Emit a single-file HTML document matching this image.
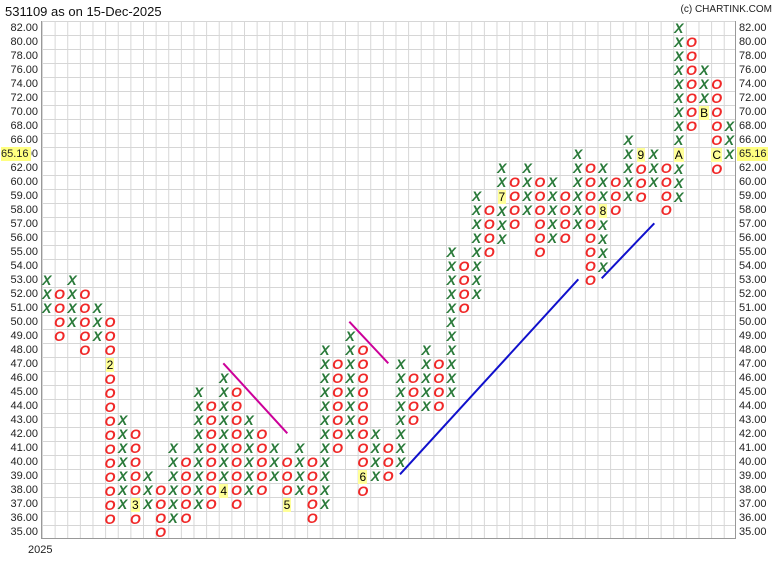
<!DOCTYPE html>
<html><head><meta charset="utf-8"><style>
body{margin:0;background:#fff;width:778px;height:568px;position:relative;overflow:hidden;font-family:"Liberation Sans",sans-serif}
#plot{position:absolute;left:40.5px;top:21px;width:695.2px;height:518px;
background-image:linear-gradient(to right,#d6d6d6 1px,transparent 1px),linear-gradient(to bottom,#d6d6d6 1px,transparent 1px);
background-size:12.64px 14px;border-left:1px solid #999;border-right:1px solid #999;border-bottom:1px solid #999;box-sizing:border-box}
.c{position:absolute;width:12.64px;text-align:center;font-size:14px;line-height:14px;font-style:italic;font-weight:bold}
.x{color:#2a7a3a}.o{color:#f02828}
.m{font-style:normal;font-weight:normal;color:#000;background:#ffff99;font-size:12px;padding:0 1px}
.l,.r{position:absolute;font-size:11px;line-height:14px;color:#222}
.l{right:740px;text-align:right}.r{left:739px}
</style></head><body>
<div style="position:absolute;left:5px;top:4px;font-size:13px;color:#111">531109 as on 15-Dec-2025</div>
<div style="position:absolute;right:6px;top:4px;font-size:10px;color:#222">(c) CHARTINK.COM</div>
<div style="position:absolute;left:28px;top:544px;font-size:11px;color:#222">2025</div>
<div id="plot"></div>
<div class="l" style="top:21px">82.00</div><div class="l" style="top:35px">80.00</div><div class="l" style="top:49px">78.00</div><div class="l" style="top:63px">76.00</div><div class="l" style="top:77px">74.00</div><div class="l" style="top:91px">72.00</div><div class="l" style="top:105px">70.00</div><div class="l" style="top:119px">68.00</div><div class="l" style="top:133px">66.00</div><div class="l" style="top:147px">64.00</div><div class="l" style="top:161px">62.00</div><div class="l" style="top:175px">60.00</div><div class="l" style="top:189px">59.00</div><div class="l" style="top:203px">58.00</div><div class="l" style="top:217px">57.00</div><div class="l" style="top:231px">56.00</div><div class="l" style="top:245px">55.00</div><div class="l" style="top:259px">54.00</div><div class="l" style="top:273px">53.00</div><div class="l" style="top:287px">52.00</div><div class="l" style="top:301px">51.00</div><div class="l" style="top:315px">50.00</div><div class="l" style="top:329px">49.00</div><div class="l" style="top:343px">48.00</div><div class="l" style="top:357px">47.00</div><div class="l" style="top:371px">46.00</div><div class="l" style="top:385px">45.00</div><div class="l" style="top:399px">44.00</div><div class="l" style="top:413px">43.00</div><div class="l" style="top:427px">42.00</div><div class="l" style="top:441px">41.00</div><div class="l" style="top:455px">40.00</div><div class="l" style="top:469px">39.00</div><div class="l" style="top:483px">38.00</div><div class="l" style="top:497px">37.00</div><div class="l" style="top:511px">36.00</div><div class="l" style="top:525px">35.00</div>
<div style="position:absolute;left:1px;top:147px;width:30px;height:14px;background:#ffff80;font-size:11px;line-height:14px;color:#222">65.16</div>
<div class="r" style="top:21px">82.00</div><div class="r" style="top:35px">80.00</div><div class="r" style="top:49px">78.00</div><div class="r" style="top:63px">76.00</div><div class="r" style="top:77px">74.00</div><div class="r" style="top:91px">72.00</div><div class="r" style="top:105px">70.00</div><div class="r" style="top:119px">68.00</div><div class="r" style="top:133px">66.00</div><div class="r" style="top:147px;background:#ffff80;left:737px;width:31px;padding-left:2px;box-sizing:border-box">65.16</div><div class="r" style="top:161px">62.00</div><div class="r" style="top:175px">60.00</div><div class="r" style="top:189px">59.00</div><div class="r" style="top:203px">58.00</div><div class="r" style="top:217px">57.00</div><div class="r" style="top:231px">56.00</div><div class="r" style="top:245px">55.00</div><div class="r" style="top:259px">54.00</div><div class="r" style="top:273px">53.00</div><div class="r" style="top:287px">52.00</div><div class="r" style="top:301px">51.00</div><div class="r" style="top:315px">50.00</div><div class="r" style="top:329px">49.00</div><div class="r" style="top:343px">48.00</div><div class="r" style="top:357px">47.00</div><div class="r" style="top:371px">46.00</div><div class="r" style="top:385px">45.00</div><div class="r" style="top:399px">44.00</div><div class="r" style="top:413px">43.00</div><div class="r" style="top:427px">42.00</div><div class="r" style="top:441px">41.00</div><div class="r" style="top:455px">40.00</div><div class="r" style="top:469px">39.00</div><div class="r" style="top:483px">38.00</div><div class="r" style="top:497px">37.00</div><div class="r" style="top:511px">36.00</div><div class="r" style="top:525px">35.00</div>

<div class="c x" style="left:40.5px;top:273px">X<br>X<br>X</div>
<div class="c o" style="left:53.14px;top:287px">O<br>O<br>O<br>O</div>
<div class="c x" style="left:65.78px;top:273px">X<br>X<br>X<br>X</div>
<div class="c o" style="left:78.42px;top:287px">O<br>O<br>O<br>O<br>O</div>
<div class="c x" style="left:91.06px;top:301px">X<br>X<br>X</div>
<div class="c o" style="left:103.7px;top:315px">O<br>O<br>O<br><span class="m">2</span><br>O<br>O<br>O<br>O<br>O<br>O<br>O<br>O<br>O<br>O<br>O</div>
<div class="c x" style="left:116.34px;top:413px">X<br>X<br>X<br>X<br>X<br>X<br>X</div>
<div class="c o" style="left:128.98px;top:427px">O<br>O<br>O<br>O<br>O<br><span class="m">3</span><br>O</div>
<div class="c x" style="left:141.62px;top:469px">X<br>X<br>X</div>
<div class="c o" style="left:154.26px;top:483px">O<br>O<br>O<br>O</div>
<div class="c x" style="left:166.9px;top:441px">X<br>X<br>X<br>X<br>X<br>X</div>
<div class="c o" style="left:179.54px;top:455px">O<br>O<br>O<br>O<br>O</div>
<div class="c x" style="left:192.18px;top:385px">X<br>X<br>X<br>X<br>X<br>X<br>X<br>X<br>X</div>
<div class="c o" style="left:204.82px;top:399px">O<br>O<br>O<br>O<br>O<br>O<br>O<br>O</div>
<div class="c x" style="left:217.46px;top:371px">X<br>X<br>X<br>X<br>X<br>X<br>X<br>X<br><span class="m">4</span></div>
<div class="c o" style="left:230.1px;top:385px">O<br>O<br>O<br>O<br>O<br>O<br>O<br>O<br>O</div>
<div class="c x" style="left:242.74px;top:413px">X<br>X<br>X<br>X<br>X<br>X</div>
<div class="c o" style="left:255.38px;top:427px">O<br>O<br>O<br>O<br>O</div>
<div class="c x" style="left:268.02px;top:441px">X<br>X<br>X</div>
<div class="c o" style="left:280.66px;top:455px">O<br>O<br>O<br><span class="m">5</span></div>
<div class="c x" style="left:293.3px;top:441px">X<br>X<br>X<br>X</div>
<div class="c o" style="left:305.94px;top:455px">O<br>O<br>O<br>O<br>O</div>
<div class="c x" style="left:318.58px;top:343px">X<br>X<br>X<br>X<br>X<br>X<br>X<br>X<br>X<br>X<br>X<br>X</div>
<div class="c o" style="left:331.22px;top:357px">O<br>O<br>O<br>O<br>O<br>O<br>O</div>
<div class="c x" style="left:343.86px;top:329px">X<br>X<br>X<br>X<br>X<br>X<br>X<br>X</div>
<div class="c o" style="left:356.5px;top:343px">O<br>O<br>O<br>O<br>O<br>O<br>O<br>O<br>O<br><span class="m">6</span><br>O</div>
<div class="c x" style="left:369.14px;top:427px">X<br>X<br>X<br>X</div>
<div class="c o" style="left:381.78px;top:441px">O<br>O<br>O</div>
<div class="c x" style="left:394.42px;top:357px">X<br>X<br>X<br>X<br>X<br>X<br>X<br>X</div>
<div class="c o" style="left:407.06px;top:371px">O<br>O<br>O<br>O</div>
<div class="c x" style="left:419.7px;top:343px">X<br>X<br>X<br>X<br>X</div>
<div class="c o" style="left:432.34px;top:357px">O<br>O<br>O<br>O</div>
<div class="c x" style="left:444.98px;top:245px">X<br>X<br>X<br>X<br>X<br>X<br>X<br>X<br>X<br>X<br>X</div>
<div class="c o" style="left:457.62px;top:259px">O<br>O<br>O<br>O</div>
<div class="c x" style="left:470.26px;top:189px">X<br>X<br>X<br>X<br>X<br>X<br>X<br>X</div>
<div class="c o" style="left:482.9px;top:203px">O<br>O<br>O<br>O</div>
<div class="c x" style="left:495.54px;top:161px">X<br>X<br><span class="m">7</span><br>X<br>X<br>X</div>
<div class="c o" style="left:508.18px;top:175px">O<br>O<br>O<br>O</div>
<div class="c x" style="left:520.82px;top:161px">X<br>X<br>X<br>X</div>
<div class="c o" style="left:533.46px;top:175px">O<br>O<br>O<br>O<br>O<br>O</div>
<div class="c x" style="left:546.1px;top:175px">X<br>X<br>X<br>X<br>X</div>
<div class="c o" style="left:558.74px;top:189px">O<br>O<br>O<br>O</div>
<div class="c x" style="left:571.38px;top:147px">X<br>X<br>X<br>X<br>X<br>X</div>
<div class="c o" style="left:584.02px;top:161px">O<br>O<br>O<br>O<br>O<br>O<br>O<br>O<br>O</div>
<div class="c x" style="left:596.66px;top:161px">X<br>X<br>X<br><span class="m">8</span><br>X<br>X<br>X<br>X</div>
<div class="c o" style="left:609.3px;top:175px">O<br>O<br>O</div>
<div class="c x" style="left:621.94px;top:133px">X<br>X<br>X<br>X<br>X</div>
<div class="c o" style="left:634.58px;top:147px"><span class="m">9</span><br>O<br>O<br>O</div>
<div class="c x" style="left:647.22px;top:147px">X<br>X<br>X</div>
<div class="c o" style="left:659.86px;top:161px">O<br>O<br>O<br>O</div>
<div class="c x" style="left:672.5px;top:21px">X<br>X<br>X<br>X<br>X<br>X<br>X<br>X<br>X<br><span class="m">A</span><br>X<br>X<br>X</div>
<div class="c o" style="left:685.14px;top:35px">O<br>O<br>O<br>O<br>O<br>O<br>O</div>
<div class="c x" style="left:697.78px;top:63px">X<br>X<br>X<br><span class="m">B</span></div>
<div class="c o" style="left:710.42px;top:77px">O<br>O<br>O<br>O<br>O<br><span class="m">C</span><br>O</div>
<div class="c x" style="left:723.06px;top:119px">X<br>X<br>X</div>

<svg width="778" height="568" style="position:absolute;left:0;top:0">
<line x1="223.3" y1="363.3" x2="287.3" y2="433.3" stroke="#cc0099" stroke-width="2"/>
<line x1="349.3" y1="321.7" x2="388.3" y2="363.3" stroke="#cc0099" stroke-width="2"/>
<line x1="400" y1="474.3" x2="578.3" y2="279.3" stroke="#1010cc" stroke-width="2"/>
<line x1="601.7" y1="278.3" x2="654.3" y2="223.3" stroke="#1010cc" stroke-width="2"/>
</svg>
</body></html>
